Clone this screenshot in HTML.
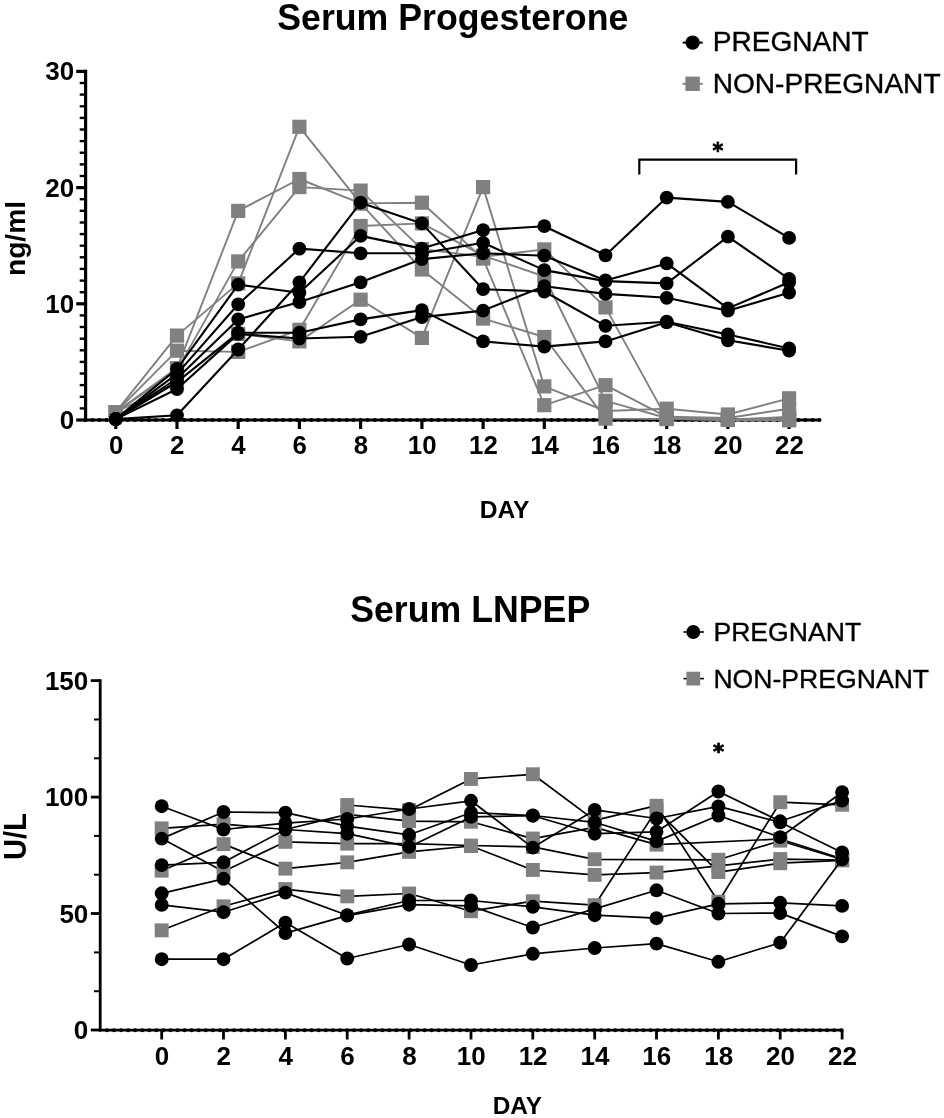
<!DOCTYPE html>
<html lang="en"><head><meta charset="utf-8"><title>Serum Progesterone and LNPEP</title>
<style>html,body{margin:0;padding:0;background:#fff}body{width:944px;height:1118px;overflow:hidden}svg{display:block}</style>
</head><body>
<svg width="944" height="1118" viewBox="0 0 944 1118" font-family='"Liberation Sans", Arial, Helvetica, sans-serif'>
<rect width="100%" height="100%" fill="#fff"/>
<g stroke="#000" stroke-width="3.2" fill="none">
<line x1="85.6" y1="69.8" x2="85.6" y2="421.6"/>
<line x1="84.0" y1="420.0" x2="819.7" y2="420.0"/>
<line x1="76.2" y1="420.0" x2="85.6" y2="420.0"/>
<line x1="79.7" y1="408.4" x2="85.6" y2="408.4" stroke-width="2.4"/>
<line x1="79.7" y1="396.8" x2="85.6" y2="396.8" stroke-width="2.4"/>
<line x1="79.7" y1="385.1" x2="85.6" y2="385.1" stroke-width="2.4"/>
<line x1="79.7" y1="373.5" x2="85.6" y2="373.5" stroke-width="2.4"/>
<line x1="79.7" y1="361.9" x2="85.6" y2="361.9" stroke-width="2.4"/>
<line x1="79.7" y1="350.3" x2="85.6" y2="350.3" stroke-width="2.4"/>
<line x1="79.7" y1="338.7" x2="85.6" y2="338.7" stroke-width="2.4"/>
<line x1="79.7" y1="327.0" x2="85.6" y2="327.0" stroke-width="2.4"/>
<line x1="79.7" y1="315.4" x2="85.6" y2="315.4" stroke-width="2.4"/>
<line x1="76.2" y1="303.8" x2="85.6" y2="303.8"/>
<line x1="79.7" y1="292.2" x2="85.6" y2="292.2" stroke-width="2.4"/>
<line x1="79.7" y1="280.6" x2="85.6" y2="280.6" stroke-width="2.4"/>
<line x1="79.7" y1="268.9" x2="85.6" y2="268.9" stroke-width="2.4"/>
<line x1="79.7" y1="257.3" x2="85.6" y2="257.3" stroke-width="2.4"/>
<line x1="79.7" y1="245.7" x2="85.6" y2="245.7" stroke-width="2.4"/>
<line x1="79.7" y1="234.1" x2="85.6" y2="234.1" stroke-width="2.4"/>
<line x1="79.7" y1="222.5" x2="85.6" y2="222.5" stroke-width="2.4"/>
<line x1="79.7" y1="210.8" x2="85.6" y2="210.8" stroke-width="2.4"/>
<line x1="79.7" y1="199.2" x2="85.6" y2="199.2" stroke-width="2.4"/>
<line x1="76.2" y1="187.6" x2="85.6" y2="187.6"/>
<line x1="79.7" y1="176.0" x2="85.6" y2="176.0" stroke-width="2.4"/>
<line x1="79.7" y1="164.4" x2="85.6" y2="164.4" stroke-width="2.4"/>
<line x1="79.7" y1="152.7" x2="85.6" y2="152.7" stroke-width="2.4"/>
<line x1="79.7" y1="141.1" x2="85.6" y2="141.1" stroke-width="2.4"/>
<line x1="79.7" y1="129.5" x2="85.6" y2="129.5" stroke-width="2.4"/>
<line x1="79.7" y1="117.9" x2="85.6" y2="117.9" stroke-width="2.4"/>
<line x1="79.7" y1="106.3" x2="85.6" y2="106.3" stroke-width="2.4"/>
<line x1="79.7" y1="94.6" x2="85.6" y2="94.6" stroke-width="2.4"/>
<line x1="79.7" y1="83.0" x2="85.6" y2="83.0" stroke-width="2.4"/>
<line x1="76.2" y1="71.4" x2="85.6" y2="71.4"/>
<line x1="115.8" y1="420.0" x2="115.8" y2="429.0"/>
<line x1="177.0" y1="420.0" x2="177.0" y2="429.0"/>
<line x1="238.2" y1="420.0" x2="238.2" y2="429.0"/>
<line x1="299.4" y1="420.0" x2="299.4" y2="429.0"/>
<line x1="360.6" y1="420.0" x2="360.6" y2="429.0"/>
<line x1="421.9" y1="420.0" x2="421.9" y2="429.0"/>
<line x1="483.1" y1="420.0" x2="483.1" y2="429.0"/>
<line x1="544.3" y1="420.0" x2="544.3" y2="429.0"/>
<line x1="605.5" y1="420.0" x2="605.5" y2="429.0"/>
<line x1="666.7" y1="420.0" x2="666.7" y2="429.0"/>
<line x1="727.9" y1="420.0" x2="727.9" y2="429.0"/>
<line x1="789.1" y1="420.0" x2="789.1" y2="429.0"/>
</g>
<line x1="85.3" y1="420.0" x2="819.7" y2="420.0" stroke="#000" stroke-width="3.8" stroke-dasharray="0.1 6.96" stroke-linecap="round"/>
<polyline fill="none" stroke="#808080" stroke-width="1.9" stroke-linejoin="round" points="115.8,412.2 177.0,335.6 238.2,283.4 299.4,126.8 360.6,203.4 421.9,269.5 483.1,318.6 544.3,337.0 605.5,418.6 666.7,419.1 727.9,419.7 789.1,419.1"/>
<rect x="108.7" y="405.1" width="14.2" height="14.2" fill="#808080"/>
<rect x="169.9" y="328.5" width="14.2" height="14.2" fill="#808080"/>
<rect x="231.1" y="276.3" width="14.2" height="14.2" fill="#808080"/>
<rect x="292.3" y="119.7" width="14.2" height="14.2" fill="#808080"/>
<rect x="353.5" y="196.3" width="14.2" height="14.2" fill="#808080"/>
<rect x="414.8" y="262.4" width="14.2" height="14.2" fill="#808080"/>
<rect x="476.0" y="311.5" width="14.2" height="14.2" fill="#808080"/>
<rect x="537.2" y="329.9" width="14.2" height="14.2" fill="#808080"/>
<rect x="598.4" y="411.5" width="14.2" height="14.2" fill="#808080"/>
<rect x="659.6" y="412.0" width="14.2" height="14.2" fill="#808080"/>
<rect x="720.8" y="412.6" width="14.2" height="14.2" fill="#808080"/>
<rect x="782.0" y="412.0" width="14.2" height="14.2" fill="#808080"/>
<polyline fill="none" stroke="#808080" stroke-width="1.9" stroke-linejoin="round" points="115.8,412.2 177.0,350.7 238.2,351.9 299.4,329.8 360.6,226.0 421.9,223.4 483.1,255.6 544.3,276.5 605.5,400.8 666.7,418.0 727.9,419.7 789.1,416.8"/>
<rect x="108.7" y="405.1" width="14.2" height="14.2" fill="#808080"/>
<rect x="169.9" y="343.6" width="14.2" height="14.2" fill="#808080"/>
<rect x="231.1" y="344.8" width="14.2" height="14.2" fill="#808080"/>
<rect x="292.3" y="322.7" width="14.2" height="14.2" fill="#808080"/>
<rect x="353.5" y="218.9" width="14.2" height="14.2" fill="#808080"/>
<rect x="414.8" y="216.3" width="14.2" height="14.2" fill="#808080"/>
<rect x="476.0" y="248.5" width="14.2" height="14.2" fill="#808080"/>
<rect x="537.2" y="269.4" width="14.2" height="14.2" fill="#808080"/>
<rect x="598.4" y="393.7" width="14.2" height="14.2" fill="#808080"/>
<rect x="659.6" y="410.9" width="14.2" height="14.2" fill="#808080"/>
<rect x="720.8" y="412.6" width="14.2" height="14.2" fill="#808080"/>
<rect x="782.0" y="409.7" width="14.2" height="14.2" fill="#808080"/>
<polyline fill="none" stroke="#808080" stroke-width="1.9" stroke-linejoin="round" points="115.8,412.2 177.0,368.1 238.2,210.9 299.4,179.0 360.6,203.4 421.9,202.7 483.1,258.6 544.3,405.2 605.5,385.2 666.7,416.8 727.9,418.0 789.1,408.7"/>
<rect x="108.7" y="405.1" width="14.2" height="14.2" fill="#808080"/>
<rect x="169.9" y="361.0" width="14.2" height="14.2" fill="#808080"/>
<rect x="231.1" y="203.8" width="14.2" height="14.2" fill="#808080"/>
<rect x="292.3" y="171.9" width="14.2" height="14.2" fill="#808080"/>
<rect x="353.5" y="196.3" width="14.2" height="14.2" fill="#808080"/>
<rect x="414.8" y="195.6" width="14.2" height="14.2" fill="#808080"/>
<rect x="476.0" y="251.5" width="14.2" height="14.2" fill="#808080"/>
<rect x="537.2" y="398.1" width="14.2" height="14.2" fill="#808080"/>
<rect x="598.4" y="378.1" width="14.2" height="14.2" fill="#808080"/>
<rect x="659.6" y="409.7" width="14.2" height="14.2" fill="#808080"/>
<rect x="720.8" y="410.9" width="14.2" height="14.2" fill="#808080"/>
<rect x="782.0" y="401.6" width="14.2" height="14.2" fill="#808080"/>
<polyline fill="none" stroke="#808080" stroke-width="1.9" stroke-linejoin="round" points="115.8,412.2 177.0,370.4 238.2,261.4 299.4,187.1 360.6,190.6 421.9,249.1 483.1,256.7 544.3,249.4 605.5,307.4 666.7,418.6 727.9,420.0 789.1,420.3"/>
<rect x="108.7" y="405.1" width="14.2" height="14.2" fill="#808080"/>
<rect x="169.9" y="363.3" width="14.2" height="14.2" fill="#808080"/>
<rect x="231.1" y="254.3" width="14.2" height="14.2" fill="#808080"/>
<rect x="292.3" y="180.0" width="14.2" height="14.2" fill="#808080"/>
<rect x="353.5" y="183.5" width="14.2" height="14.2" fill="#808080"/>
<rect x="414.8" y="242.0" width="14.2" height="14.2" fill="#808080"/>
<rect x="476.0" y="249.6" width="14.2" height="14.2" fill="#808080"/>
<rect x="537.2" y="242.3" width="14.2" height="14.2" fill="#808080"/>
<rect x="598.4" y="300.3" width="14.2" height="14.2" fill="#808080"/>
<rect x="659.6" y="411.5" width="14.2" height="14.2" fill="#808080"/>
<rect x="720.8" y="412.9" width="14.2" height="14.2" fill="#808080"/>
<rect x="782.0" y="413.2" width="14.2" height="14.2" fill="#808080"/>
<polyline fill="none" stroke="#808080" stroke-width="1.9" stroke-linejoin="round" points="115.8,412.2 177.0,382.0 238.2,333.9 299.4,341.4 360.6,299.7 421.9,337.9 483.1,187.1 544.3,386.4 605.5,411.0 666.7,408.7 727.9,414.5 789.1,398.3"/>
<rect x="108.7" y="405.1" width="14.2" height="14.2" fill="#808080"/>
<rect x="169.9" y="374.9" width="14.2" height="14.2" fill="#808080"/>
<rect x="231.1" y="326.8" width="14.2" height="14.2" fill="#808080"/>
<rect x="292.3" y="334.3" width="14.2" height="14.2" fill="#808080"/>
<rect x="353.5" y="292.6" width="14.2" height="14.2" fill="#808080"/>
<rect x="414.8" y="330.8" width="14.2" height="14.2" fill="#808080"/>
<rect x="476.0" y="180.0" width="14.2" height="14.2" fill="#808080"/>
<rect x="537.2" y="379.3" width="14.2" height="14.2" fill="#808080"/>
<rect x="598.4" y="403.9" width="14.2" height="14.2" fill="#808080"/>
<rect x="659.6" y="401.6" width="14.2" height="14.2" fill="#808080"/>
<rect x="720.8" y="407.4" width="14.2" height="14.2" fill="#808080"/>
<rect x="782.0" y="391.2" width="14.2" height="14.2" fill="#808080"/>
<polyline fill="none" stroke="#000" stroke-width="2.1" stroke-linejoin="round" points="115.8,419.1 177.0,373.9 238.2,304.3 299.4,248.6 360.6,253.3 421.9,253.3 483.1,242.8 544.3,270.1 605.5,281.1 666.7,283.4 727.9,236.7 789.1,278.8"/>
<circle cx="115.8" cy="419.1" r="6.90" fill="#000"/>
<circle cx="177.0" cy="373.9" r="6.90" fill="#000"/>
<circle cx="238.2" cy="304.3" r="6.90" fill="#000"/>
<circle cx="299.4" cy="248.6" r="6.90" fill="#000"/>
<circle cx="360.6" cy="253.3" r="6.90" fill="#000"/>
<circle cx="421.9" cy="253.3" r="6.90" fill="#000"/>
<circle cx="483.1" cy="242.8" r="6.90" fill="#000"/>
<circle cx="544.3" cy="270.1" r="6.90" fill="#000"/>
<circle cx="605.5" cy="281.1" r="6.90" fill="#000"/>
<circle cx="666.7" cy="283.4" r="6.90" fill="#000"/>
<circle cx="727.9" cy="236.7" r="6.90" fill="#000"/>
<circle cx="789.1" cy="278.8" r="6.90" fill="#000"/>
<polyline fill="none" stroke="#000" stroke-width="2.1" stroke-linejoin="round" points="115.8,419.1 177.0,415.3 238.2,349.5 299.4,282.3 360.6,202.7 421.9,223.4 483.1,289.2 544.3,291.5 605.5,325.8 666.7,321.7 727.9,334.5 789.1,348.4"/>
<circle cx="115.8" cy="419.1" r="6.90" fill="#000"/>
<circle cx="177.0" cy="415.3" r="6.90" fill="#000"/>
<circle cx="238.2" cy="349.5" r="6.90" fill="#000"/>
<circle cx="299.4" cy="282.3" r="6.90" fill="#000"/>
<circle cx="360.6" cy="202.7" r="6.90" fill="#000"/>
<circle cx="421.9" cy="223.4" r="6.90" fill="#000"/>
<circle cx="483.1" cy="289.2" r="6.90" fill="#000"/>
<circle cx="544.3" cy="291.5" r="6.90" fill="#000"/>
<circle cx="605.5" cy="325.8" r="6.90" fill="#000"/>
<circle cx="666.7" cy="321.7" r="6.90" fill="#000"/>
<circle cx="727.9" cy="334.5" r="6.90" fill="#000"/>
<circle cx="789.1" cy="348.4" r="6.90" fill="#000"/>
<polyline fill="none" stroke="#000" stroke-width="2.1" stroke-linejoin="round" points="115.8,419.1 177.0,368.8 238.2,284.6 299.4,292.7 360.6,235.9 421.9,248.6 483.1,230.1 544.3,226.2 605.5,255.3 666.7,197.6 727.9,201.9 789.1,237.9"/>
<circle cx="115.8" cy="419.1" r="6.90" fill="#000"/>
<circle cx="177.0" cy="368.8" r="6.90" fill="#000"/>
<circle cx="238.2" cy="284.6" r="6.90" fill="#000"/>
<circle cx="299.4" cy="292.7" r="6.90" fill="#000"/>
<circle cx="360.6" cy="235.9" r="6.90" fill="#000"/>
<circle cx="421.9" cy="248.6" r="6.90" fill="#000"/>
<circle cx="483.1" cy="230.1" r="6.90" fill="#000"/>
<circle cx="544.3" cy="226.2" r="6.90" fill="#000"/>
<circle cx="605.5" cy="255.3" r="6.90" fill="#000"/>
<circle cx="666.7" cy="197.6" r="6.90" fill="#000"/>
<circle cx="727.9" cy="201.9" r="6.90" fill="#000"/>
<circle cx="789.1" cy="237.9" r="6.90" fill="#000"/>
<polyline fill="none" stroke="#000" stroke-width="2.1" stroke-linejoin="round" points="115.8,419.1 177.0,378.5 238.2,319.4 299.4,302.0 360.6,282.3 421.9,259.1 483.1,253.3 544.3,255.7 605.5,280.5 666.7,263.4 727.9,308.4 789.1,282.3"/>
<circle cx="115.8" cy="419.1" r="6.90" fill="#000"/>
<circle cx="177.0" cy="378.5" r="6.90" fill="#000"/>
<circle cx="238.2" cy="319.4" r="6.90" fill="#000"/>
<circle cx="299.4" cy="302.0" r="6.90" fill="#000"/>
<circle cx="360.6" cy="282.3" r="6.90" fill="#000"/>
<circle cx="421.9" cy="259.1" r="6.90" fill="#000"/>
<circle cx="483.1" cy="253.3" r="6.90" fill="#000"/>
<circle cx="544.3" cy="255.7" r="6.90" fill="#000"/>
<circle cx="605.5" cy="280.5" r="6.90" fill="#000"/>
<circle cx="666.7" cy="263.4" r="6.90" fill="#000"/>
<circle cx="727.9" cy="308.4" r="6.90" fill="#000"/>
<circle cx="789.1" cy="282.3" r="6.90" fill="#000"/>
<polyline fill="none" stroke="#000" stroke-width="2.1" stroke-linejoin="round" points="115.8,419.1 177.0,382.0 238.2,332.7 299.4,332.7 360.6,319.4 421.9,310.1 483.1,341.4 544.3,346.6 605.5,341.4 666.7,322.3 727.9,340.3 789.1,350.7"/>
<circle cx="115.8" cy="419.1" r="6.90" fill="#000"/>
<circle cx="177.0" cy="382.0" r="6.90" fill="#000"/>
<circle cx="238.2" cy="332.7" r="6.90" fill="#000"/>
<circle cx="299.4" cy="332.7" r="6.90" fill="#000"/>
<circle cx="360.6" cy="319.4" r="6.90" fill="#000"/>
<circle cx="421.9" cy="310.1" r="6.90" fill="#000"/>
<circle cx="483.1" cy="341.4" r="6.90" fill="#000"/>
<circle cx="544.3" cy="346.6" r="6.90" fill="#000"/>
<circle cx="605.5" cy="341.4" r="6.90" fill="#000"/>
<circle cx="666.7" cy="322.3" r="6.90" fill="#000"/>
<circle cx="727.9" cy="340.3" r="6.90" fill="#000"/>
<circle cx="789.1" cy="350.7" r="6.90" fill="#000"/>
<polyline fill="none" stroke="#000" stroke-width="2.1" stroke-linejoin="round" points="115.8,419.1 177.0,389.0 238.2,333.9 299.4,338.5 360.6,336.8 421.9,317.1 483.1,310.6 544.3,286.2 605.5,293.9 666.7,297.8 727.9,310.7 789.1,292.7"/>
<circle cx="115.8" cy="419.1" r="6.90" fill="#000"/>
<circle cx="177.0" cy="389.0" r="6.90" fill="#000"/>
<circle cx="238.2" cy="333.9" r="6.90" fill="#000"/>
<circle cx="299.4" cy="338.5" r="6.90" fill="#000"/>
<circle cx="360.6" cy="336.8" r="6.90" fill="#000"/>
<circle cx="421.9" cy="317.1" r="6.90" fill="#000"/>
<circle cx="483.1" cy="310.6" r="6.90" fill="#000"/>
<circle cx="544.3" cy="286.2" r="6.90" fill="#000"/>
<circle cx="605.5" cy="293.9" r="6.90" fill="#000"/>
<circle cx="666.7" cy="297.8" r="6.90" fill="#000"/>
<circle cx="727.9" cy="310.7" r="6.90" fill="#000"/>
<circle cx="789.1" cy="292.7" r="6.90" fill="#000"/>
<g font-weight="bold" font-size="26" text-anchor="end" fill="#000">
<text x="74.1" y="428.9">0</text>
<text x="74.1" y="312.7">10</text>
<text x="74.1" y="196.5">20</text>
<text x="74.1" y="80.3">30</text>
</g>
<g font-weight="bold" font-size="25.8" text-anchor="middle" fill="#000">
<text x="116.1" y="454.3">0</text>
<text x="177.3" y="454.3">2</text>
<text x="238.5" y="454.3">4</text>
<text x="299.7" y="454.3">6</text>
<text x="360.9" y="454.3">8</text>
<text x="422.2" y="454.3">10</text>
<text x="483.4" y="454.3">12</text>
<text x="544.6" y="454.3">14</text>
<text x="605.8" y="454.3">16</text>
<text x="667.0" y="454.3">18</text>
<text x="728.2" y="454.3">20</text>
<text x="789.4" y="454.3">22</text>
</g>
<text transform="translate(452.8,30.4) scale(1,1.045)" font-weight="bold" font-size="35.7" text-anchor="middle">Serum Progesterone</text>
<text x="504.5" y="517.6" font-weight="bold" font-size="24.6" text-anchor="middle">DAY</text>
<text transform="translate(24.6,238.5) rotate(-90)" font-weight="bold" font-size="28.2" text-anchor="middle">ng/ml</text>
<polyline fill="none" stroke="#000" stroke-width="2.2" points="639.3,174.5 639.3,159.7 796.1,159.7 796.1,174.5"/>
<text x="712.5" y="157.8" font-family="DejaVu Sans, sans-serif" font-weight="bold" font-size="20.5" stroke="#000" stroke-width="0.8" stroke-linejoin="round">*</text>
<line x1="682.6" y1="42.6" x2="702.7" y2="42.6" stroke="#000" stroke-width="2"/>
<circle cx="692.6" cy="42.6" r="7.2" fill="#000"/>
<line x1="682.6" y1="83.8" x2="702.7" y2="83.8" stroke="#808080" stroke-width="2"/>
<rect x="685.4" y="76.6" width="14.4" height="14.4" fill="#808080"/>
<text x="712.7" y="51.2" font-size="28.1" stroke="#000" stroke-width="0.35">PREGNANT</text>
<text x="712.7" y="93.3" font-size="28.1" stroke="#000" stroke-width="0.35">NON-PREGNANT</text>
<g stroke="#000" stroke-width="2.8" fill="none">
<line x1="100.2" y1="679.2" x2="100.2" y2="1031.4"/>
<line x1="98.8" y1="1030.2" x2="843.5" y2="1030.2"/>
<line x1="90.8" y1="1030.0" x2="100.2" y2="1030.0"/>
<line x1="94.0" y1="991.2" x2="100.2" y2="991.2" stroke-width="2"/>
<line x1="94.0" y1="952.4" x2="100.2" y2="952.4" stroke-width="2"/>
<line x1="90.8" y1="913.5" x2="100.2" y2="913.5"/>
<line x1="94.0" y1="874.7" x2="100.2" y2="874.7" stroke-width="2"/>
<line x1="94.0" y1="835.9" x2="100.2" y2="835.9" stroke-width="2"/>
<line x1="90.8" y1="797.1" x2="100.2" y2="797.1"/>
<line x1="94.0" y1="758.3" x2="100.2" y2="758.3" stroke-width="2"/>
<line x1="94.0" y1="719.5" x2="100.2" y2="719.5" stroke-width="2"/>
<line x1="90.8" y1="680.6" x2="100.2" y2="680.6"/>
<line x1="161.7" y1="1030.0" x2="161.7" y2="1039.5"/>
<line x1="223.5" y1="1030.0" x2="223.5" y2="1039.5"/>
<line x1="285.4" y1="1030.0" x2="285.4" y2="1039.5"/>
<line x1="347.2" y1="1030.0" x2="347.2" y2="1039.5"/>
<line x1="409.1" y1="1030.0" x2="409.1" y2="1039.5"/>
<line x1="471.0" y1="1030.0" x2="471.0" y2="1039.5"/>
<line x1="532.8" y1="1030.0" x2="532.8" y2="1039.5"/>
<line x1="594.7" y1="1030.0" x2="594.7" y2="1039.5"/>
<line x1="656.5" y1="1030.0" x2="656.5" y2="1039.5"/>
<line x1="718.4" y1="1030.0" x2="718.4" y2="1039.5"/>
<line x1="780.2" y1="1030.0" x2="780.2" y2="1039.5"/>
<line x1="842.1" y1="1030.0" x2="842.1" y2="1039.5"/>
</g>
<line x1="106.9" y1="1030.2" x2="842.1" y2="1030.2" stroke="#000" stroke-width="3.9" stroke-dasharray="0.1 6.96" stroke-linecap="round"/>
<polyline fill="none" stroke="#000" stroke-width="1.7" stroke-linejoin="round" points="161.7,828.3 223.5,824.1 285.4,829.5 347.2,814.3 409.1,821.1 471.0,821.8 532.8,838.6 594.7,827.4 656.5,844.6 780.2,839.0 842.1,858.8"/>
<rect x="154.7" y="821.4" width="13.9" height="13.9" fill="#808080"/>
<rect x="216.6" y="817.2" width="13.9" height="13.9" fill="#808080"/>
<rect x="340.3" y="807.4" width="13.9" height="13.9" fill="#808080"/>
<rect x="402.1" y="814.1" width="13.9" height="13.9" fill="#808080"/>
<rect x="464.0" y="814.8" width="13.9" height="13.9" fill="#808080"/>
<rect x="525.9" y="831.6" width="13.9" height="13.9" fill="#808080"/>
<rect x="587.7" y="820.4" width="13.9" height="13.9" fill="#808080"/>
<rect x="649.6" y="837.7" width="13.9" height="13.9" fill="#808080"/>
<rect x="773.3" y="832.1" width="13.9" height="13.9" fill="#808080"/>
<rect x="835.2" y="851.9" width="13.9" height="13.9" fill="#808080"/>
<polyline fill="none" stroke="#000" stroke-width="1.7" stroke-linejoin="round" points="161.7,838.6 223.5,871.4 285.4,841.8 347.2,843.7 409.1,843.7 471.0,845.5 532.8,846.9 594.7,859.3 718.4,859.8 780.2,840.7 842.1,859.5"/>
<rect x="216.6" y="864.4" width="13.9" height="13.9" fill="#808080"/>
<rect x="278.4" y="834.9" width="13.9" height="13.9" fill="#808080"/>
<rect x="340.3" y="836.7" width="13.9" height="13.9" fill="#808080"/>
<rect x="402.1" y="836.7" width="13.9" height="13.9" fill="#808080"/>
<rect x="464.0" y="838.6" width="13.9" height="13.9" fill="#808080"/>
<rect x="525.9" y="840.0" width="13.9" height="13.9" fill="#808080"/>
<rect x="587.7" y="852.3" width="13.9" height="13.9" fill="#808080"/>
<rect x="711.4" y="852.8" width="13.9" height="13.9" fill="#808080"/>
<rect x="773.3" y="833.7" width="13.9" height="13.9" fill="#808080"/>
<rect x="835.2" y="852.6" width="13.9" height="13.9" fill="#808080"/>
<polyline fill="none" stroke="#000" stroke-width="1.7" stroke-linejoin="round" points="161.7,870.7 223.5,844.1 285.4,868.6 347.2,862.3 409.1,851.8 471.0,846.0 532.8,870.0 594.7,874.9 656.5,872.6 718.4,865.8 780.2,859.1 842.1,860.0"/>
<rect x="154.7" y="863.7" width="13.9" height="13.9" fill="#808080"/>
<rect x="216.6" y="837.2" width="13.9" height="13.9" fill="#808080"/>
<rect x="278.4" y="861.7" width="13.9" height="13.9" fill="#808080"/>
<rect x="340.3" y="855.4" width="13.9" height="13.9" fill="#808080"/>
<rect x="402.1" y="844.9" width="13.9" height="13.9" fill="#808080"/>
<rect x="464.0" y="839.1" width="13.9" height="13.9" fill="#808080"/>
<rect x="525.9" y="863.0" width="13.9" height="13.9" fill="#808080"/>
<rect x="587.7" y="867.9" width="13.9" height="13.9" fill="#808080"/>
<rect x="649.6" y="865.6" width="13.9" height="13.9" fill="#808080"/>
<rect x="711.4" y="858.9" width="13.9" height="13.9" fill="#808080"/>
<rect x="773.3" y="852.1" width="13.9" height="13.9" fill="#808080"/>
<rect x="835.2" y="853.0" width="13.9" height="13.9" fill="#808080"/>
<polyline fill="none" stroke="#000" stroke-width="1.7" stroke-linejoin="round" points="161.7,930.3 223.5,906.3 285.4,889.1 347.2,896.3 409.1,893.5 471.0,911.2 532.8,901.2 594.7,905.2 656.5,809.9 718.4,872.1 780.2,863.2 842.1,860.4"/>
<rect x="154.7" y="923.4" width="13.9" height="13.9" fill="#808080"/>
<rect x="216.6" y="899.4" width="13.9" height="13.9" fill="#808080"/>
<rect x="278.4" y="882.1" width="13.9" height="13.9" fill="#808080"/>
<rect x="340.3" y="889.4" width="13.9" height="13.9" fill="#808080"/>
<rect x="402.1" y="886.6" width="13.9" height="13.9" fill="#808080"/>
<rect x="464.0" y="904.3" width="13.9" height="13.9" fill="#808080"/>
<rect x="525.9" y="894.3" width="13.9" height="13.9" fill="#808080"/>
<rect x="587.7" y="898.2" width="13.9" height="13.9" fill="#808080"/>
<rect x="649.6" y="803.0" width="13.9" height="13.9" fill="#808080"/>
<rect x="711.4" y="865.1" width="13.9" height="13.9" fill="#808080"/>
<rect x="773.3" y="856.3" width="13.9" height="13.9" fill="#808080"/>
<rect x="835.2" y="853.5" width="13.9" height="13.9" fill="#808080"/>
<polyline fill="none" stroke="#000" stroke-width="1.7" stroke-linejoin="round" points="347.2,805.0 409.1,810.1 471.0,778.9 532.8,774.3 594.7,820.4 656.5,805.7 718.4,901.7 780.2,802.2 842.1,804.8"/>
<rect x="340.3" y="798.1" width="13.9" height="13.9" fill="#808080"/>
<rect x="402.1" y="803.2" width="13.9" height="13.9" fill="#808080"/>
<rect x="464.0" y="772.0" width="13.9" height="13.9" fill="#808080"/>
<rect x="525.9" y="767.3" width="13.9" height="13.9" fill="#808080"/>
<rect x="587.7" y="813.4" width="13.9" height="13.9" fill="#808080"/>
<rect x="649.6" y="798.8" width="13.9" height="13.9" fill="#808080"/>
<rect x="711.4" y="894.7" width="13.9" height="13.9" fill="#808080"/>
<rect x="773.3" y="795.3" width="13.9" height="13.9" fill="#808080"/>
<rect x="835.2" y="797.8" width="13.9" height="13.9" fill="#808080"/>
<polyline fill="none" stroke="#000" stroke-width="1.7" stroke-linejoin="round" points="161.7,806.2 223.5,829.5 285.4,823.2 347.2,819.0 409.1,809.0 471.0,800.8 532.8,847.6 594.7,809.9 656.5,818.5 718.4,806.4 780.2,822.3 842.1,852.5"/>
<circle cx="161.7" cy="806.2" r="6.95" fill="#000"/>
<circle cx="223.5" cy="829.5" r="6.95" fill="#000"/>
<circle cx="285.4" cy="823.2" r="6.95" fill="#000"/>
<circle cx="347.2" cy="819.0" r="6.95" fill="#000"/>
<circle cx="409.1" cy="809.0" r="6.95" fill="#000"/>
<circle cx="471.0" cy="800.8" r="6.95" fill="#000"/>
<circle cx="532.8" cy="847.6" r="6.95" fill="#000"/>
<circle cx="594.7" cy="809.9" r="6.95" fill="#000"/>
<circle cx="656.5" cy="818.5" r="6.95" fill="#000"/>
<circle cx="718.4" cy="806.4" r="6.95" fill="#000"/>
<circle cx="780.2" cy="822.3" r="6.95" fill="#000"/>
<circle cx="842.1" cy="852.5" r="6.95" fill="#000"/>
<polyline fill="none" stroke="#000" stroke-width="1.7" stroke-linejoin="round" points="161.7,838.6 223.5,812.0 285.4,812.7 347.2,826.2 409.1,834.8 471.0,812.7 532.8,815.5 594.7,822.3 656.5,841.4 718.4,815.5 780.2,837.2 842.1,792.2"/>
<circle cx="161.7" cy="838.6" r="6.95" fill="#000"/>
<circle cx="223.5" cy="812.0" r="6.95" fill="#000"/>
<circle cx="285.4" cy="812.7" r="6.95" fill="#000"/>
<circle cx="347.2" cy="826.2" r="6.95" fill="#000"/>
<circle cx="409.1" cy="834.8" r="6.95" fill="#000"/>
<circle cx="471.0" cy="812.7" r="6.95" fill="#000"/>
<circle cx="532.8" cy="815.5" r="6.95" fill="#000"/>
<circle cx="594.7" cy="822.3" r="6.95" fill="#000"/>
<circle cx="656.5" cy="841.4" r="6.95" fill="#000"/>
<circle cx="718.4" cy="815.5" r="6.95" fill="#000"/>
<circle cx="780.2" cy="837.2" r="6.95" fill="#000"/>
<circle cx="842.1" cy="792.2" r="6.95" fill="#000"/>
<polyline fill="none" stroke="#000" stroke-width="1.7" stroke-linejoin="round" points="161.7,865.1 223.5,862.3 285.4,829.5 347.2,833.7 409.1,846.9 471.0,816.9 532.8,815.7 594.7,833.7 656.5,831.8 718.4,791.5 780.2,821.3 842.1,800.6"/>
<circle cx="161.7" cy="865.1" r="6.95" fill="#000"/>
<circle cx="223.5" cy="862.3" r="6.95" fill="#000"/>
<circle cx="285.4" cy="829.5" r="6.95" fill="#000"/>
<circle cx="347.2" cy="833.7" r="6.95" fill="#000"/>
<circle cx="409.1" cy="846.9" r="6.95" fill="#000"/>
<circle cx="471.0" cy="816.9" r="6.95" fill="#000"/>
<circle cx="532.8" cy="815.7" r="6.95" fill="#000"/>
<circle cx="594.7" cy="833.7" r="6.95" fill="#000"/>
<circle cx="656.5" cy="831.8" r="6.95" fill="#000"/>
<circle cx="718.4" cy="791.5" r="6.95" fill="#000"/>
<circle cx="780.2" cy="821.3" r="6.95" fill="#000"/>
<circle cx="842.1" cy="800.6" r="6.95" fill="#000"/>
<polyline fill="none" stroke="#000" stroke-width="1.7" stroke-linejoin="round" points="161.7,893.3 223.5,878.8 285.4,933.1 347.2,915.6 409.1,904.7 471.0,905.9 532.8,927.5 594.7,908.9 656.5,890.3 718.4,913.5 780.2,913.1 842.1,936.4"/>
<circle cx="161.7" cy="893.3" r="6.95" fill="#000"/>
<circle cx="223.5" cy="878.8" r="6.95" fill="#000"/>
<circle cx="285.4" cy="933.1" r="6.95" fill="#000"/>
<circle cx="347.2" cy="915.6" r="6.95" fill="#000"/>
<circle cx="409.1" cy="904.7" r="6.95" fill="#000"/>
<circle cx="471.0" cy="905.9" r="6.95" fill="#000"/>
<circle cx="532.8" cy="927.5" r="6.95" fill="#000"/>
<circle cx="594.7" cy="908.9" r="6.95" fill="#000"/>
<circle cx="656.5" cy="890.3" r="6.95" fill="#000"/>
<circle cx="718.4" cy="913.5" r="6.95" fill="#000"/>
<circle cx="780.2" cy="913.1" r="6.95" fill="#000"/>
<circle cx="842.1" cy="936.4" r="6.95" fill="#000"/>
<polyline fill="none" stroke="#000" stroke-width="1.7" stroke-linejoin="round" points="161.7,904.9 223.5,912.2 285.4,892.6 347.2,915.2 409.1,900.5 471.0,900.5 532.8,906.8 594.7,915.2 656.5,918.2 718.4,903.8 780.2,902.8 842.1,905.9"/>
<circle cx="161.7" cy="904.9" r="6.95" fill="#000"/>
<circle cx="223.5" cy="912.2" r="6.95" fill="#000"/>
<circle cx="285.4" cy="892.6" r="6.95" fill="#000"/>
<circle cx="347.2" cy="915.2" r="6.95" fill="#000"/>
<circle cx="409.1" cy="900.5" r="6.95" fill="#000"/>
<circle cx="471.0" cy="900.5" r="6.95" fill="#000"/>
<circle cx="532.8" cy="906.8" r="6.95" fill="#000"/>
<circle cx="594.7" cy="915.2" r="6.95" fill="#000"/>
<circle cx="656.5" cy="918.2" r="6.95" fill="#000"/>
<circle cx="718.4" cy="903.8" r="6.95" fill="#000"/>
<circle cx="780.2" cy="902.8" r="6.95" fill="#000"/>
<circle cx="842.1" cy="905.9" r="6.95" fill="#000"/>
<polyline fill="none" stroke="#000" stroke-width="1.7" stroke-linejoin="round" points="161.7,959.2 223.5,959.2 285.4,922.6 347.2,958.5 409.1,944.5 471.0,965.0 532.8,953.8 594.7,948.0 656.5,943.6 718.4,961.8 780.2,942.7 842.1,859.3"/>
<circle cx="161.7" cy="959.2" r="6.95" fill="#000"/>
<circle cx="223.5" cy="959.2" r="6.95" fill="#000"/>
<circle cx="285.4" cy="922.6" r="6.95" fill="#000"/>
<circle cx="347.2" cy="958.5" r="6.95" fill="#000"/>
<circle cx="409.1" cy="944.5" r="6.95" fill="#000"/>
<circle cx="471.0" cy="965.0" r="6.95" fill="#000"/>
<circle cx="532.8" cy="953.8" r="6.95" fill="#000"/>
<circle cx="594.7" cy="948.0" r="6.95" fill="#000"/>
<circle cx="656.5" cy="943.6" r="6.95" fill="#000"/>
<circle cx="718.4" cy="961.8" r="6.95" fill="#000"/>
<circle cx="780.2" cy="942.7" r="6.95" fill="#000"/>
<circle cx="842.1" cy="859.3" r="6.95" fill="#000"/>
<g font-weight="bold" font-size="26" text-anchor="end" fill="#000">
<text x="88.3" y="1039.3">0</text>
<text x="88.3" y="922.8">50</text>
<text x="88.3" y="806.4">100</text>
<text x="88.3" y="689.9">150</text>
</g>
<g font-weight="bold" font-size="26" text-anchor="middle" fill="#000">
<text x="162.0" y="1065.3">0</text>
<text x="223.8" y="1065.3">2</text>
<text x="285.7" y="1065.3">4</text>
<text x="347.5" y="1065.3">6</text>
<text x="409.4" y="1065.3">8</text>
<text x="471.3" y="1065.3">10</text>
<text x="533.1" y="1065.3">12</text>
<text x="595.0" y="1065.3">14</text>
<text x="656.8" y="1065.3">16</text>
<text x="718.7" y="1065.3">18</text>
<text x="780.5" y="1065.3">20</text>
<text x="842.4" y="1065.3">22</text>
</g>
<text transform="translate(470.2,622.1) scale(1,1.045)" font-weight="bold" font-size="35.7" text-anchor="middle">Serum LNPEP</text>
<text x="517.3" y="1113.8" font-weight="bold" font-size="24.4" text-anchor="middle">DAY</text>
<text transform="translate(25.9,836.6) rotate(-90) scale(1,1.09)" font-weight="bold" font-size="29.2" text-anchor="middle">U/L</text>
<text x="713.1" y="759.0" font-family="DejaVu Sans, sans-serif" font-weight="bold" font-size="21.3" stroke="#000" stroke-width="0.8" stroke-linejoin="round">*</text>
<line x1="683.5" y1="632.0" x2="703.9" y2="632.0" stroke="#000" stroke-width="1.6"/>
<circle cx="693.3" cy="632.0" r="6.9" fill="#000"/>
<line x1="683.5" y1="678.6" x2="703.9" y2="678.6" stroke="#000" stroke-width="1.6"/>
<rect x="686.4" y="671.7" width="13.8" height="13.8" fill="#808080"/>
<text x="713.4" y="641.2" font-size="26.6" stroke="#000" stroke-width="0.35">PREGNANT</text>
<text x="713.4" y="687.8" font-size="26.6" stroke="#000" stroke-width="0.35">NON-PREGNANT</text>
</svg>
</body></html>
